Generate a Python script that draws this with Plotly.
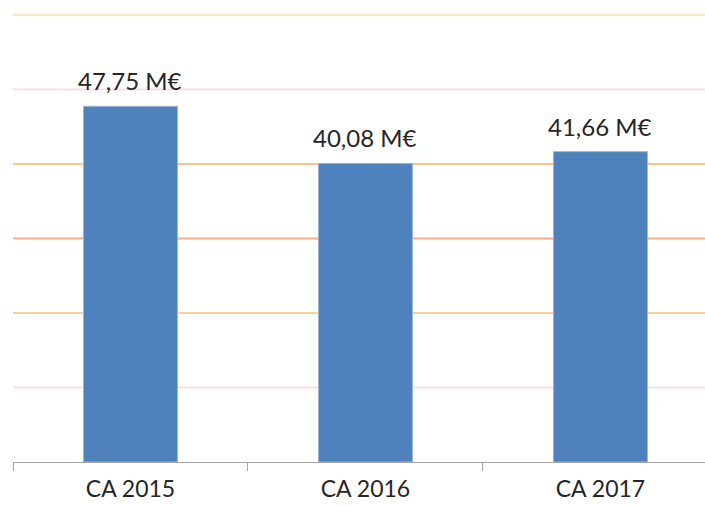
import plotly.graph_objects as go

categories = ["CA 2015", "CA 2016", "CA 2017"]
values = [47.75, 40.08, 41.66]
labels = ["47,75 M€", "40,08 M€", "41,66 M€"]
grid_values = [10, 20, 30, 40, 50, 60]
grid_colors = ["#FCDDE8", "#FBD09A", "#F8B088", "#FAC687", "#FCDDE3", "#FCE6C2"]

FONT = "Lato, 'Liberation Sans', Arial, sans-serif"

fig = go.Figure()
fig.add_trace(go.Bar(
    x=categories,
    y=values,
    width=0.4,
    marker=dict(color="#4F81BD", line=dict(color="#9AB4D8", width=1)),
    hoverinfo="skip",
))

shapes = []
for gv, gc in zip(grid_values, grid_colors):
    shapes.append(dict(type="line", xref="paper", yref="y", x0=0, x1=1, y0=gv, y1=gv,
                       line=dict(color=gc, width=2), layer="below"))

annotations = []
for c, v, t in zip(categories, values, labels):
    annotations.append(dict(x=c, y=v, xref="x", yref="y", text=t, showarrow=False,
                            yanchor="bottom", yshift=9,
                            font=dict(family=FONT, size=24, color="#262626")))

fig.update_layout(
    width=705, height=506,
    margin=dict(l=13, r=0, t=13, b=44),
    paper_bgcolor="white", plot_bgcolor="white",
    showlegend=False,
    shapes=shapes,
    annotations=annotations,
    xaxis=dict(
        type="category",
        range=[-0.5, 2.445],
        tickson="boundaries",
        ticks="outside", ticklen=8, tickcolor="#A6A6A6", tickwidth=1,
        showline=True, linecolor="#A6A6A6", linewidth=1,
        showgrid=False, zeroline=False,
        tickfont=dict(family=FONT, size=23, color="#262626"),
        ticklabelstandoff=6,
    ),
    yaxis=dict(range=[0, 60.27], showticklabels=False, showgrid=False, zeroline=False,
               showline=False, ticks=""),
)

fig.write_html("out.html", config={"displayModeBar": False},
               post_script="document.body.style.margin='0';document.body.style.overflow='hidden';")
